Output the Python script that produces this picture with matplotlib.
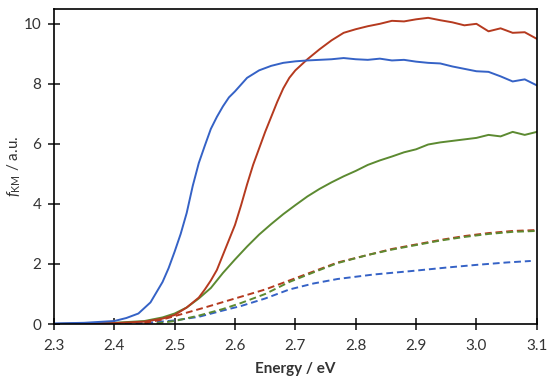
import matplotlib
matplotlib.use("Agg")
import matplotlib.pyplot as plt

plt.rcParams['font.family'] = ['Lato', 'DejaVu Sans']
plt.rcParams['mathtext.fontset'] = 'custom'
plt.rcParams['mathtext.rm'] = 'Lato'
plt.rcParams['mathtext.it'] = 'Lato:italic'

#******************* data *******************
blueE = [2.30, 2.35, 2.40, 2.42, 2.44, 2.46, 2.48, 2.49, 2.50, 2.51, 2.52, 2.53, 2.54, 2.55,
         2.56, 2.57, 2.58, 2.59, 2.60, 2.62, 2.64, 2.66, 2.68, 2.70, 2.72, 2.74, 2.76, 2.78,
         2.80, 2.82, 2.84, 2.86, 2.88, 2.90, 2.92, 2.94, 2.96, 2.98, 3.00, 3.02, 3.04, 3.06,
         3.08, 3.10]
blueF = [0.02, 0.04, 0.10, 0.20, 0.35, 0.72, 1.40, 1.86, 2.41, 3.00, 3.70, 4.60, 5.36, 5.94,
         6.50, 6.90, 7.25, 7.55, 7.75, 8.20, 8.45, 8.60, 8.70, 8.75, 8.78, 8.80, 8.82, 8.86,
         8.82, 8.80, 8.84, 8.78, 8.80, 8.74, 8.70, 8.68, 8.58, 8.50, 8.42, 8.40, 8.25, 8.08,
         8.15, 7.95]

redE = [2.30, 2.40, 2.45, 2.48, 2.50, 2.52, 2.54, 2.55, 2.56, 2.57, 2.58, 2.59, 2.60, 2.61,
        2.62, 2.63, 2.64, 2.65, 2.66, 2.67, 2.68, 2.69, 2.70, 2.72, 2.74, 2.76, 2.78, 2.80,
        2.82, 2.84, 2.86, 2.88, 2.90, 2.92, 2.94, 2.96, 2.98, 3.00, 3.02, 3.04, 3.06, 3.08, 3.10]
redF = [0.00, 0.03, 0.08, 0.18, 0.30, 0.55, 0.88, 1.15, 1.45, 1.80, 2.30, 2.80, 3.30, 3.95,
        4.65, 5.30, 5.85, 6.40, 6.90, 7.40, 7.85, 8.20, 8.45, 8.82, 9.15, 9.45, 9.70, 9.82,
        9.92, 10.00, 10.10, 10.08, 10.15, 10.20, 10.12, 10.05, 9.95, 10.00, 9.75, 9.85, 9.70,
        9.72, 9.50]

greenE = [2.30, 2.40, 2.45, 2.48, 2.50, 2.52, 2.54, 2.56, 2.58, 2.60, 2.62, 2.64, 2.66, 2.68,
          2.70, 2.72, 2.74, 2.76, 2.78, 2.80, 2.82, 2.84, 2.86, 2.88, 2.90, 2.92, 2.94, 2.96,
          2.98, 3.00, 3.02, 3.04, 3.06, 3.08, 3.10]
greenF = [0.00, 0.04, 0.10, 0.22, 0.35, 0.55, 0.85, 1.20, 1.70, 2.15, 2.58, 2.98, 3.33, 3.66,
          3.96, 4.25, 4.50, 4.72, 4.92, 5.10, 5.30, 5.45, 5.58, 5.72, 5.82, 5.98, 6.05, 6.10,
          6.15, 6.20, 6.30, 6.25, 6.40, 6.30, 6.40]

blueDashE = [2.40, 2.45, 2.50, 2.54, 2.58, 2.61, 2.65, 2.69, 2.73, 2.77, 2.83, 2.89, 2.95,
             3.00, 3.05, 3.09]
blueDashF = [0.00, 0.03, 0.12, 0.24, 0.45, 0.60, 0.85, 1.15, 1.35, 1.50, 1.65, 1.76, 1.88,
             1.97, 2.05, 2.10]

redDashE = [2.45, 2.48, 2.51, 2.55, 2.60, 2.65, 2.69, 2.73, 2.77, 2.82, 2.86, 2.90, 2.94,
            2.98, 3.02, 3.06, 3.10]
redDashF = [0.03, 0.15, 0.32, 0.55, 0.85, 1.15, 1.45, 1.75, 2.05, 2.30, 2.50, 2.65, 2.80,
            2.93, 3.03, 3.10, 3.13]

greenDashE = [2.47, 2.50, 2.54, 2.58, 2.61, 2.65, 2.69, 2.73, 2.77, 2.82, 2.86, 2.90, 2.94,
              2.98, 3.02, 3.06, 3.10]
greenDashF = [0.02, 0.10, 0.28, 0.50, 0.70, 1.00, 1.40, 1.72, 2.03, 2.30, 2.48, 2.63, 2.78,
              2.90, 3.00, 3.07, 3.10]

xticks = [2.3, 2.4, 2.5, 2.6, 2.7, 2.8, 2.9, 3.0, 3.1]
yticks = [0, 2, 4, 6, 8, 10]

#******************* plotting *******************
blue = "#3562C6"
red = "#B53A1F"
green = "#5C8A31"
dash = (3.5, 2)

fig = plt.figure(figsize=(5.5, 3.83), dpi=100)
ax = fig.add_axes([0.098, 0.154, 0.878, 0.823])

ax.plot(blueDashE, blueDashF, color=blue, lw=1.4, dashes=dash)
ax.plot(redDashE, redDashF, color=red, lw=1.4, dashes=dash)
ax.plot(greenDashE, greenDashF, color=green, lw=1.4, dashes=dash)
ax.plot(greenE, greenF, color=green, lw=1.4)
ax.plot(redE, redF, color=red, lw=1.4)
ax.plot(blueE, blueF, color=blue, lw=1.4)

ax.set_xlim(2.3, 3.1)
ax.set_ylim(0, 10.5)
ax.set_xticks(xticks)
ax.set_xticklabels(["%.1f" % t for t in xticks])
ax.set_yticks(yticks)
ax.tick_params(direction="inout", length=8, width=1.2, labelsize=11, colors="#222222",
               labelcolor="#333333")
ax.tick_params(axis="x", pad=7)
ax.tick_params(axis="y", pad=5)
for s in ax.spines.values():
    s.set_linewidth(1.2)

ax.set_xlabel("Energy / eV", fontsize=11, fontweight="bold", color="#333333", labelpad=6)
ax.set_ylabel(r"$f_{\mathrm{KM}}$ / a.u.", fontsize=11, color="#333333")
ax.yaxis.set_label_coords(-0.064, 0.5)

fig.savefig("out.png", dpi=100)
